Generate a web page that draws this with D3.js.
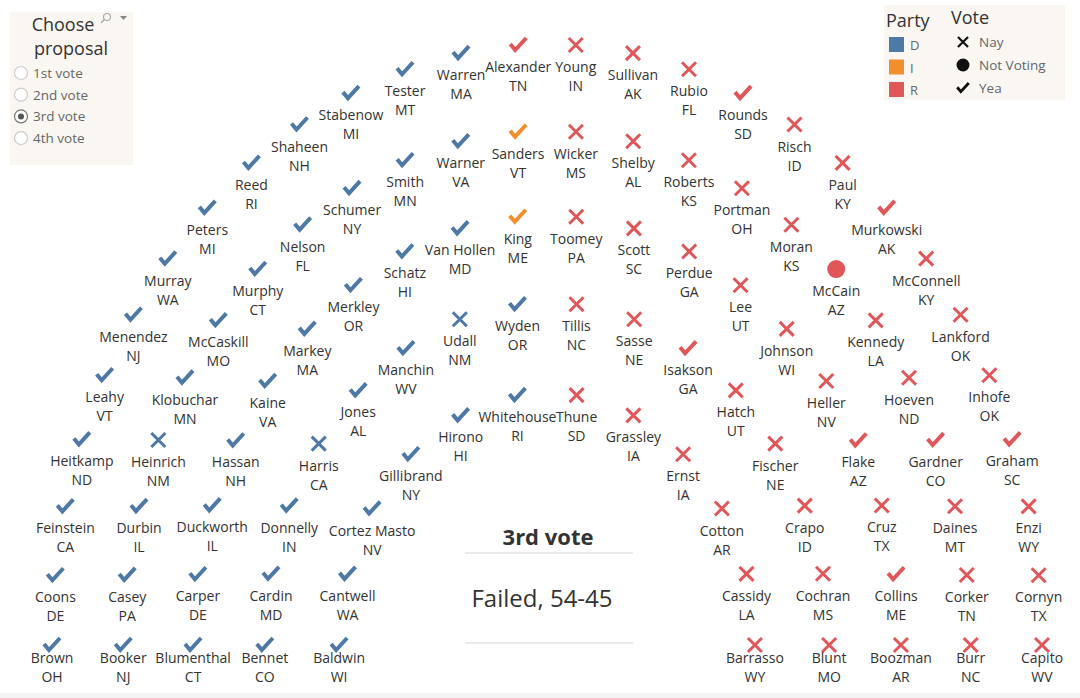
<!DOCTYPE html>
<html>

<head>
  <meta charset="utf-8">
  <title>Senate vote hemicycle</title>
  <style>
  body {
    margin: 0px;
    background: #fff;
  }
  svg text {
    font-family: "Open Sans", "Noto Sans", sans-serif;
  }
  .name {
    font-size: 14px;
    fill: #333;
    text-anchor: middle;
  }
  </style>
</head>

<body>
  <svg width="1080" height="698"></svg>
  <script src="https://d3js.org/d3.v7.min.js"></script>
  <script>
  // rings from outermost to innermost, seats listed left to right
  var ringRadius = [1, 0.856, 0.715, 0.57, 0.42];

  var ringNames = [
    ["Brown", "Coons", "Feinstein", "Heitkamp", "Leahy", "Menendez", "Murray", "Peters", "Reed", "Shaheen", "Stabenow", "Tester", "Warren", "Alexander", "Young", "Sullivan", "Rubio", "Rounds", "Risch", "Paul", "Murkowski", "McConnell", "Lankford", "Inhofe", "Graham", "Enzi", "Cornyn", "Capito"],
    ["Booker", "Casey", "Durbin", "Heinrich", "Klobuchar", "McCaskill", "Murphy", "Nelson", "Schumer", "Smith", "Warner", "Sanders", "Wicker", "Shelby", "Roberts", "Portman", "Moran", "McCain", "Kennedy", "Hoeven", "Gardner", "Daines", "Corker", "Burr"],
    ["Blumenthal", "Carper", "Duckworth", "Hassan", "Kaine", "Markey", "Merkley", "Schatz", "Van Hollen", "King", "Toomey", "Scott", "Perdue", "Lee", "Johnson", "Heller", "Flake", "Cruz", "Collins", "Boozman"],
    ["Bennet", "Cardin", "Donnelly", "Harris", "Jones", "Manchin", "Udall", "Wyden", "Tillis", "Sasse", "Isakson", "Hatch", "Fischer", "Crapo", "Cochran", "Blunt"],
    ["Baldwin", "Cantwell", "Cortez Masto", "Gillibrand", "Hirono", "Whitehouse", "Thune", "Grassley", "Ernst", "Cotton", "Cassidy", "Barrasso"]
  ];

  var ringStates = [
    ["OH", "DE", "CA", "ND", "VT", "NJ", "WA", "MI", "RI", "NH", "MI", "MT", "MA", "TN", "IN", "AK", "FL", "SD", "ID", "KY", "AK", "KY", "OK", "OK", "SC", "WY", "TX", "WV"],
    ["NJ", "PA", "IL", "NM", "MN", "MO", "CT", "FL", "NY", "MN", "VA", "VT", "MS", "AL", "KS", "OH", "KS", "AZ", "LA", "ND", "CO", "MT", "TN", "NC"],
    ["CT", "DE", "IL", "NH", "VA", "MA", "OR", "HI", "MD", "ME", "PA", "SC", "GA", "UT", "WI", "NV", "AZ", "TX", "ME", "AR"],
    ["CO", "MD", "IN", "CA", "AL", "WV", "NM", "OR", "NC", "NE", "GA", "UT", "NE", "ID", "MS", "MO"],
    ["WI", "WA", "NV", "NY", "HI", "RI", "SD", "IA", "IA", "AR", "LA", "WY"]
  ];

  var ringParty = [
    "DDDDDDDDDDDDDRRRRRRRRRRRRRRR",
    "DDDDDDDDDDDIRRRRRRRRRRRR",
    "DDDDDDDDDIRRRRRRRRRR",
    "DDDDDDDDRRRRRRRR",
    "DDDDDDRRRRRR"
  ];

  // Y = Yea, N = Nay, O = Not Voting
  var ringVote = [
    "YYYYYYYYYYYYYYNNNYNNYNNNYNNN",
    "YYYNYYYYYYYYNNNNNONNYNNN",
    "YYYYYYYYYYNNNNNNYNYN",
    "YYYNYYNYNNYNNNNN",
    "YYYYYYNNNNNN"
  ];

  var partyKeys = ["D", "I", "R"];
  var partyColors = ["#4e79a7", "#f28e2b", "#e15759"];
  var voteKeys = ["N", "O", "Y"];
  var voteLabels = ["Nay", "Not Voting", "Yea"];
  var proposals = ["1st vote", "2nd vote", "3rd vote", "4th vote"];
  var selected = "3rd vote";
  var result = "Failed, 54-45";

  var svg = d3.select("svg");

  var color = d3.scaleOrdinal().domain(partyKeys).range(partyColors);
  var x = d3.scaleLinear().domain([-1, 1]).range([52, 1042]);
  var y = d3.scaleLinear().domain([0, 1]).range([645, 44]);

  var seats = [];
  ringNames.forEach(function(names, r) {
    var angle = d3.scaleLinear().domain([0, names.length - 1]).range([Math.PI, 0]);
    names.forEach(function(name, i) {
      var a = angle(i);
      seats.push({
        name: name,
        state: ringStates[r][i],
        party: ringParty[r][i],
        vote: ringVote[r][i],
        x: x(ringRadius[r] * Math.cos(a)),
        y: y(ringRadius[r] * Math.sin(a))
      });
    });
  });

  var checkPath = "M-8,-1L-3,5L8,-7";
  var crossPath = "M-7,-7L7,7M7,-7L-7,7";

  function drawMark(sel, vote, col, scale) {
    if (vote == "O") {
      sel.append("circle").attr("r", 9 * scale).attr("fill", col);
    } else {
      sel.append("path")
        .attr("d", vote == "Y" ? checkPath : crossPath)
        .attr("transform", "scale(" + scale + ")")
        .attr("fill", "none")
        .attr("stroke", col)
        .attr("stroke-width", vote == "Y" ? 4 : 3);
    }
  }

  svg.append("rect")
    .attr("x", 0).attr("y", 693).attr("width", 1080).attr("height", 5)
    .attr("fill", "#f3f3f3");

  var nodes = svg.selectAll(".seat")
    .data(seats)
    .enter()
    .append("g")
    .attr("class", "seat")
    .attr("transform", function(d) { return "translate(" + d.x + "," + d.y + ")"; });

  nodes.each(function(d) {
    drawMark(d3.select(this), d.vote, color(d.party), 1);
  });

  // labels at the bottom edge get pushed up
  nodes.append("text")
    .attr("class", "name")
    .attr("y", function(d) { return 27 - Math.max(0, d.y + 46 - 682); })
    .text(function(d) { return d.name; });

  nodes.append("text")
    .attr("class", "name")
    .attr("y", function(d) { return 46 - Math.max(0, d.y + 46 - 682); })
    .text(function(d) { return d.state; });

  // centre caption
  svg.append("text")
    .attr("x", 548).attr("y", 545)
    .attr("text-anchor", "middle")
    .attr("font-size", "22px")
    .attr("font-weight", "bold")
    .attr("fill", "#333")
    .text(selected);

  svg.append("text")
    .attr("x", 542).attr("y", 607)
    .attr("text-anchor", "middle")
    .attr("font-size", "24px")
    .attr("fill", "#333")
    .text(result);

  [553, 643].forEach(function(ly) {
    svg.append("line")
      .attr("x1", 465).attr("x2", 633)
      .attr("y1", ly).attr("y2", ly)
      .attr("stroke", "#d4d4d4")
      .attr("stroke-width", 1.2);
  });

  // parameter control
  var ctl = svg.append("g");
  ctl.append("rect")
    .attr("x", 10).attr("y", 12).attr("width", 123).attr("height", 153)
    .attr("fill", "#faf6f2");
  ctl.append("text").attr("x", 63).attr("y", 31)
    .attr("text-anchor", "middle").attr("font-size", "18px").attr("fill", "#333")
    .text("Choose");
  ctl.append("text").attr("x", 71).attr("y", 55)
    .attr("text-anchor", "middle").attr("font-size", "18px").attr("fill", "#333")
    .text("proposal");
  ctl.append("circle").attr("cx", 107).attr("cy", 17).attr("r", 3.5)
    .attr("fill", "none").attr("stroke", "#aaa").attr("stroke-width", 1.2);
  ctl.append("line").attr("x1", 104.5).attr("y1", 19.5).attr("x2", 101).attr("y2", 23)
    .attr("stroke", "#aaa").attr("stroke-width", 1.5);
  ctl.append("path").attr("d", "M120,16L127,16L123.5,20Z").attr("fill", "#888");

  var radios = ctl.selectAll(".radio")
    .data(proposals)
    .enter()
    .append("g")
    .attr("class", "radio")
    .attr("transform", function(d, i) { return "translate(21," + (73 + i * 21.7) + ")"; });
  radios.append("circle")
    .attr("r", 6.5)
    .attr("fill", "#fff")
    .attr("stroke", function(d) { return d == selected ? "#777" : "#ccc"; })
    .attr("stroke-width", 1.2);
  radios.filter(function(d) { return d == selected; })
    .append("circle").attr("r", 3).attr("fill", "#555");
  radios.append("text")
    .attr("x", 12).attr("y", 5)
    .attr("font-size", "13.5px")
    .attr("fill", "#666")
    .text(function(d) { return d; });

  // legend
  var lg = svg.append("g");
  lg.append("rect")
    .attr("x", 884).attr("y", 5).attr("width", 181).attr("height", 95)
    .attr("fill", "#faf6f2");
  lg.append("text").attr("x", 886).attr("y", 27)
    .attr("font-size", "18px").attr("fill", "#333").text("Party");
  lg.append("text").attr("x", 951).attr("y", 24)
    .attr("font-size", "18px").attr("fill", "#333").text("Vote");

  partyKeys.forEach(function(k, i) {
    lg.append("rect")
      .attr("x", 889).attr("y", 37 + i * 22.5)
      .attr("width", 15).attr("height", 15)
      .attr("fill", color(k));
    lg.append("text")
      .attr("x", 910).attr("y", 50 + i * 22.5)
      .attr("font-size", "13px").attr("fill", "#666")
      .text(k);
  });

  voteKeys.forEach(function(k, i) {
    var g = lg.append("g").attr("transform", "translate(963," + (42 + i * 23) + ")");
    drawMark(g, k, "#111", 0.72);
    lg.append("text")
      .attr("x", 979).attr("y", 47 + i * 23)
      .attr("font-size", "13.5px").attr("fill", "#666")
      .text(voteLabels[i]);
  });
  </script>
</body>

</html>
